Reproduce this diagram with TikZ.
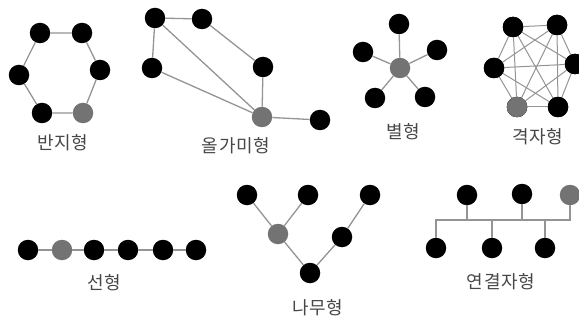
\documentclass[tikz,border=0pt]{standalone}
\usepackage{fontspec}
\newfontfamily\kr[LetterSpace=4]{Noto Sans CJK KR}
\begin{document}
\begin{tikzpicture}[x=1pt,y=-1pt,
  nd/.style={circle,fill=black,minimum size=20.5pt,inner sep=0pt},
  gn/.style={circle,fill=black!55,minimum size=20.5pt,inner sep=0pt},
  ed/.style={draw=black!42,line width=1.3pt},
  lb/.style={font=\kr\fontsize{18}{18}\selectfont,text=black!72,inner sep=0pt}]
\useasboundingbox (0,0) rectangle (579,321);
% ring
\node[nd] (r1) at (40,33) {};
\node[nd] (r2) at (82,33) {};
\node[nd] (r3) at (100,70) {};
\node[gn] (r4) at (83,113) {};
\node[nd] (r5) at (42,113) {};
\node[nd] (r6) at (19,75) {};
\draw[ed] (r1)--(r2) (r2)--(r3) (r3)--(r4) (r4)--(r5) (r5)--(r6) (r6)--(r1);
\node[lb] (lr) at (63,143) {반지형};
% olgami
\node[nd] (o1) at (155,18) {};
\node[nd] (o2) at (202,19) {};
\node[nd] (o3) at (152,68) {};
\node[nd] (o4) at (263,67) {};
\node[gn] (o5) at (262,117) {};
\node[nd] (o6) at (320,120) {};
\draw[ed] (o1)--(o2) (o1)--(o3) (o2)--(o4) (o4)--(o5) (o1)--(o5) (o3)--(o5) (o5)--(o6);
\node[lb] (lo) at (236,146) {올가미형};
% star
\node[gn] (s0) at (400,68) {};
\node[nd] (s1) at (399,24) {};
\node[nd] (s2) at (363,52) {};
\node[nd] (s3) at (437,50) {};
\node[nd] (s4) at (375,98) {};
\node[nd] (s5) at (425,97) {};
\foreach \i in {1,...,5} \draw[ed] (s0)--(s\i);
\node[lb] (ls) at (403,132) {별형};
% full mesh
\node[nd] (m1) at (513,27) {};
\node[nd] (m2) at (557,25) {};
\node[nd] (m3) at (575,64) {};
\node[nd] (m4) at (558,107) {};
\node[gn] (m5) at (517,107) {};
\node[nd] (m6) at (494,68) {};
\foreach \i in {1,...,6}{\foreach \j in {1,...,6}{\ifnum\i<\j \draw[ed,line width=1pt] (m\i)--(m\j);\fi}}
\foreach \i in {1,...,6} \node[nd] at (m\i) {};
\node[gn] at (m5) {};
\node[lb] (lm) at (538,137) {격자형};
% line
\node[nd] (l1) at (28,250) {};
\node[gn] (l2) at (62,250) {};
\node[nd] (l3) at (94,250) {};
\node[nd] (l4) at (128,250) {};
\node[nd] (l5) at (163,250) {};
\node[nd] (l6) at (196,250) {};
\draw[ed] (l1)--(l2) (l2)--(l3) (l3)--(l4) (l4)--(l5) (l5)--(l6);
\node[lb] (ll) at (104,283) {선형};
% tree
\node[nd] (t1) at (247,195) {};
\node[nd] (t2) at (308,195) {};
\node[nd] (t3) at (370,195) {};
\node[gn] (t4) at (278,234) {};
\node[nd] (t5) at (342,237) {};
\node[nd] (t6) at (310,273) {};
\draw[ed] (t1)--(t4) (t2)--(t4) (t4)--(t6) (t6)--(t5) (t5)--(t3);
\node[lb] (lt) at (318,308) {나무형};
% bus
\node[nd] (b1) at (467,195) {};
\node[nd] (b2) at (522,194) {};
\node[gn] (b3) at (570,195) {};
\node[nd] (b4) at (436,248) {};
\node[nd] (b5) at (492,248) {};
\node[nd] (b6) at (545,248) {};
\coordinate (bl) at (436,220);
\coordinate (br) at (570,220);
\draw[ed] (b4) -- (bl) -- (br) -- (b3);
\draw[ed] (b1) -- (b1 |- bl) (b2) -- (b2 |- bl) (b5) -- (b5 |- bl) (b6) -- (b6 |- bl);
\node[lb] (lb1) at (501,282) {연결자형};
\end{tikzpicture}
\end{document}
